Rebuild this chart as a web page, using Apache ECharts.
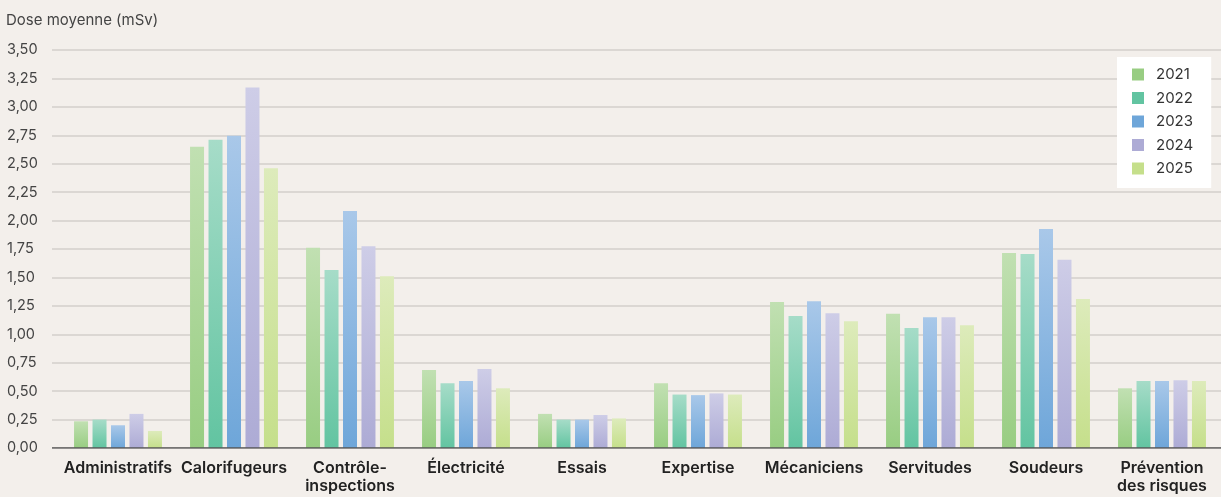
<!DOCTYPE html>
<html><head><meta charset="utf-8">
<script src="https://cdn.jsdelivr.net/npm/echarts@6/dist/echarts.min.js"></script>
<style>html,body{margin:0;padding:0;background:#F3EFEB}#c{width:1221px;height:497px}</style>
</head><body><div id="c"></div>
<script>
const categories = ['Administratifs','Calorifugeurs','Contrôle-\ninspections','Électricité','Essais','Expertise','Mécaniciens','Servitudes','Soudeurs','Prévention\ndes risques'];
const years = ['2021','2022','2023','2024','2025'];
const v2021 = [0.235, 2.65, 1.76, 0.685, 0.30, 0.57, 1.285, 1.18, 1.715, 0.525];
const v2022 = [0.25, 2.71, 1.565, 0.57, 0.25, 0.47, 1.16, 1.055, 1.705, 0.59];
const v2023 = [0.20, 2.745, 2.085, 0.59, 0.25, 0.465, 1.29, 1.15, 1.925, 0.59];
const v2024 = [0.30, 3.17, 1.775, 0.695, 0.29, 0.48, 1.185, 1.15, 1.655, 0.595];
const v2025 = [0.15, 2.46, 1.51, 0.525, 0.26, 0.47, 1.115, 1.08, 1.31, 0.59];
const yTicks = [0,0.25,0.5,0.75,1,1.25,1.5,1.75,2,2.25,2.5,2.75,3,3.25,3.5];
const colors = ['#98CD82','#62C4A1','#6EA6D9','#ADABD5','#C5DF8B'];
const tops = ['#C1E0B2','#A6DCC8','#A9C8E9','#CECDE7','#DDEBBB'];
const values = [v2021, v2022, v2023, v2024, v2025];

const chart = echarts.init(document.getElementById('c'));
chart.setOption({
  backgroundColor: '#F3EFEB',
  animation: false,
  textStyle: {fontFamily: 'Inter'},
  title: {text: 'Dose moyenne (mSv)', left: 1, top: 8,
    textStyle: {fontSize: 15, fontWeight: 'normal', color: '#444', fontFamily: 'Inter'}},
  legend: {
    orient: 'vertical', left: 1117, top: 57,
    backgroundColor: '#FFFFFF',
    padding: [10, 18, 12, 15],
    itemWidth: 12, itemHeight: 12, itemGap: 8.5,
    icon: 'rect',
    textStyle: {fontSize: 15, color: '#333', fontFamily: 'Inter', padding: [0, 0, 0, 7]},
    data: years.map((y, i) => ({name: y, itemStyle: {color: colors[i]}}))
  },
  grid: [
    {left: 52, right: 0, top: 50, bottom: 49, containLabel: false},
    {left: 60, right: 1, top: 50, bottom: 49, containLabel: false}
  ],
  xAxis: [
    {gridIndex: 0, type: 'value', min: 0, max: 1, show: false},
    {gridIndex: 1, type: 'category', data: categories,
      axisLine: {show: false}, axisTick: {show: false},
      axisLabel: {interval: 0, margin: 11, fontSize: 16, fontWeight: 600, color: '#222', lineHeight: 18, fontFamily: 'Inter'}}
  ],
  yAxis: [
    {gridIndex: 0, type: 'value', min: 0, max: 3.5, interval: 0.25,
      axisLine: {show: false}, axisTick: {show: false},
      axisLabel: {align: 'left', margin: 45, fontSize: 14.5, color: '#444', fontFamily: 'Inter',
        formatter: v => v.toFixed(2).replace('.', ',')},
      splitLine: {lineStyle: {color: '#D3CFCB', width: 1.5}}},
    {gridIndex: 1, type: 'value', min: 0, max: 3.5, interval: 0.25, show: false, splitLine: {show: false}}
  ],
  series: [
    {type: 'line', xAxisIndex: 0, yAxisIndex: 0, data: [[0,0],[1,0]], symbol: 'none', silent: true,
      lineStyle: {color: '#555', width: 1.5}, z: 5, legendHoverLink: false, name: '_axis'}
  ].concat(years.map((y, i) => ({
    name: y, type: 'bar', xAxisIndex: 1, yAxisIndex: 1,
    data: values[i], barWidth: 14, barGap: '32%',
    itemStyle: {color: new echarts.graphic.LinearGradient(0, 0, 0, 1, [
      {offset: 0, color: tops[i]}, {offset: 1, color: colors[i]}])}
  })))
});
</script></body></html>
